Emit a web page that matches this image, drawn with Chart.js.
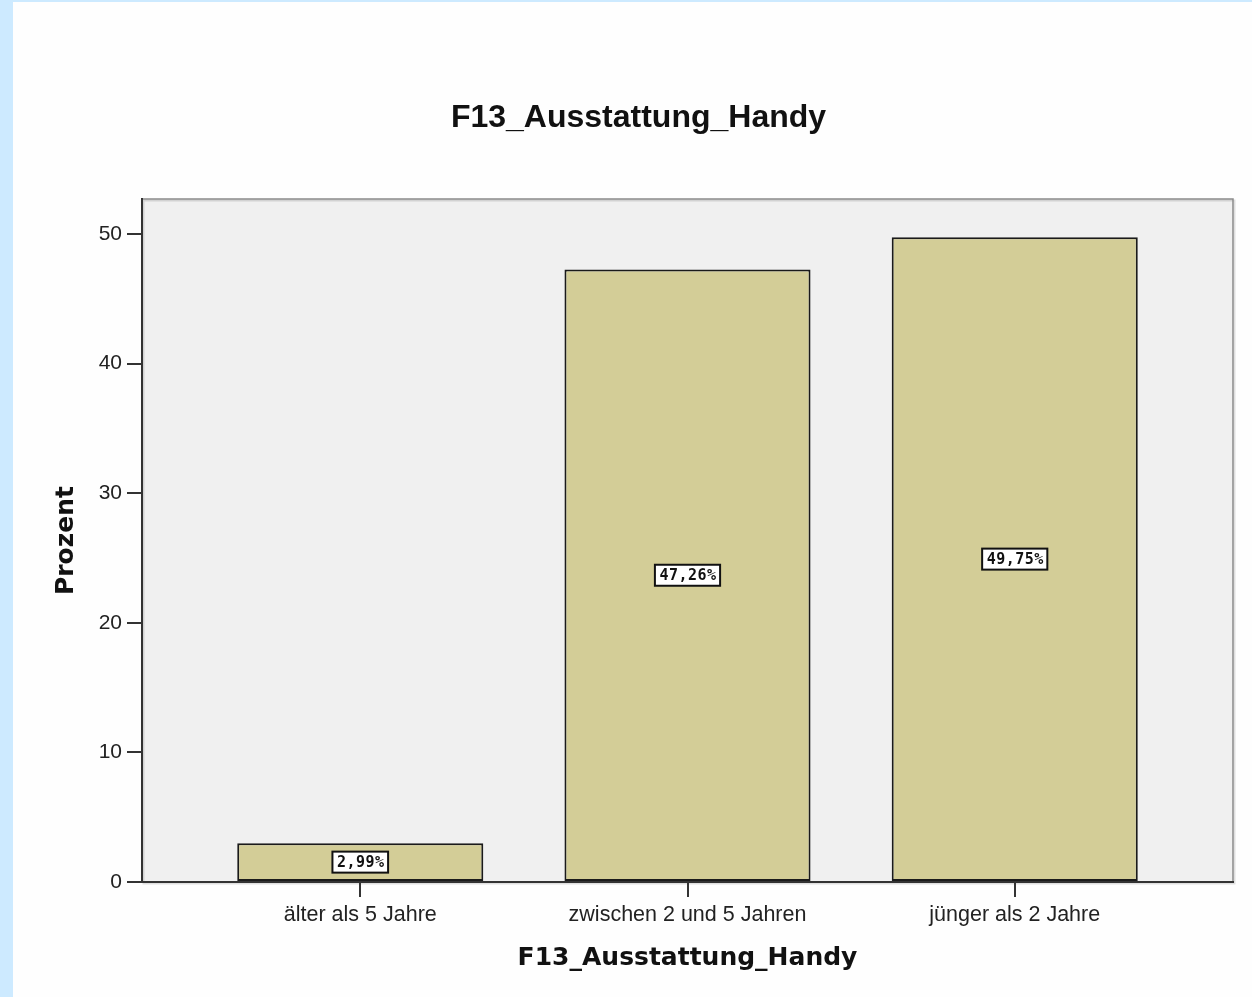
<!DOCTYPE html>
<html>
<head>
<meta charset="utf-8">
<script src="https://cdn.jsdelivr.net/npm/chart.js@4/dist/chart.umd.min.js"></script>
<style>
  html, body { margin: 0; padding: 0; background: #cdeaff; width: 1252px; height: 997px; overflow: hidden; }
  #wrap { position: absolute; left: 13px; top: 2px; width: 1239px; height: 995px; background: #fefefe; }
</style>
</head>
<body>
<div id="wrap"><canvas id="c" width="1239" height="995"></canvas></div>
<script>
const chartTitle = 'F13_Ausstattung_Handy';
const xAxisTitle = 'F13_Ausstattung_Handy';
const yAxisTitle = 'Prozent';
const categories = ['älter als 5 Jahre', 'zwischen 2 und 5 Jahren', 'jünger als 2 Jahre'];
const percentValues = [2.99, 47.26, 49.75];
const yTickValues = [0, 10, 20, 30, 40, 50];

const plotBg = {
  id: 'plotBg',
  beforeDraw(chart) {
    const { ctx, chartArea: a } = chart;
    ctx.save();
    ctx.fillStyle = '#f0f0f0';
    ctx.fillRect(a.left, a.top, a.right - a.left, a.bottom - a.top);
    ctx.strokeStyle = 'rgba(0,0,0,0.12)';
    ctx.lineWidth = 2;
    ctx.strokeRect(a.left + 1.5, a.top + 1.5, a.right - a.left, a.bottom - a.top);
    ctx.strokeStyle = '#8a8a8a';
    ctx.lineWidth = 1.5;
    ctx.strokeRect(a.left, a.top, a.right - a.left, a.bottom - a.top);
    ctx.restore();
  }
};

const barLabels = {
  id: 'barLabels',
  afterDatasetsDraw(chart) {
    const { ctx } = chart;
    const meta = chart.getDatasetMeta(0);
    ctx.save();
    ctx.font = 'bold 15px "DejaVu Sans Mono"';
    try { ctx.letterSpacing = '0.5px'; } catch (e) {}
    ctx.textAlign = 'center';
    ctx.textBaseline = 'middle';
    meta.data.forEach((bar, i) => {
      const txt = percentValues[i].toFixed(2).replace('.', ',') + '%';
      const cx = bar.x;
      const cy = (bar.y + bar.base) / 2;
      const w = ctx.measureText(txt).width + 8;
      const h = 21;
      ctx.fillStyle = '#ffffff';
      ctx.fillRect(cx - w / 2, cy - h / 2, w, h);
      ctx.strokeStyle = '#111';
      ctx.lineWidth = 2;
      ctx.strokeRect(cx - w / 2, cy - h / 2, w, h);
      ctx.fillStyle = '#111';
      ctx.fillText(txt, cx + 0.5, cy + 1);
    });
    ctx.restore();
  }
};

new Chart(document.getElementById('c'), {
  type: 'bar',
  data: {
    datasets: [{
      data: categories.map((c, i) => ({ x: i, y: percentValues[i] })),
      backgroundColor: '#d3cd97',
      borderColor: '#1a1a1a',
      borderWidth: 2,
      borderSkipped: false,
      categoryPercentage: 1,
      barPercentage: 0.752
    }]
  },
  options: {
    responsive: false,
    animation: false,
    layout: { padding: { left: 31, right: 19, top: 0, bottom: 0 } },
    plugins: {
      legend: { display: false },
      tooltip: { enabled: false },
      title: {
        display: true,
        text: chartTitle,
        color: '#111',
        font: { family: '"Liberation Sans", Arial, sans-serif', size: 32, weight: 'bold', lineHeight: 1.2 },
        padding: { top: 97, bottom: 61.6 }
      }
    },
    scales: {
      x: {
        type: 'linear',
        offset: false,
        min: -0.667,
        max: 2.667,
        afterBuildTicks(scale) { scale.ticks = categories.map((c, i) => ({ value: i })); },
        afterFit(scale) { scale.height = 115; },
        ticks: {
          callback: (v) => categories[v],
          color: '#222',
          padding: 5,
          maxRotation: 0,
          autoSkip: false,
          font: { family: '"Liberation Sans", Arial, sans-serif', size: 21.5 }
        },
        grid: { offset: false, drawOnChartArea: false, drawTicks: true, tickLength: 15, color: '#333', lineWidth: 2 },
        border: { display: true, color: '#333', width: 2 },
        title: {
          display: true,
          text: xAxisTitle,
          color: '#111',
          font: { family: '"DejaVu Sans", Verdana, sans-serif', size: 25, weight: 'bold', lineHeight: 1.2 },
          padding: { top: 0, bottom: 24 }
        }
      },
      y: {
        min: 0,
        max: 52.7,
        afterBuildTicks(scale) { scale.ticks = yTickValues.map(v => ({ value: v })); },
        afterFit(scale) { scale.width = 98; },
        ticks: {
          color: '#222',
          padding: 5,
          font: { family: '"Liberation Sans", Arial, sans-serif', size: 21 }
        },
        grid: { drawOnChartArea: false, drawTicks: true, tickLength: 15, color: '#333', lineWidth: 2 },
        border: { display: true, color: '#333', width: 2 },
        title: {
          display: true,
          text: yAxisTitle,
          color: '#111',
          font: { family: '"DejaVu Sans", Verdana, sans-serif', size: 25, weight: 'bold', lineHeight: 1.2 },
          padding: { top: 7, bottom: 0 }
        }
      }
    }
  },
  plugins: [plotBg, barLabels]
});
</script>
</body>
</html>
